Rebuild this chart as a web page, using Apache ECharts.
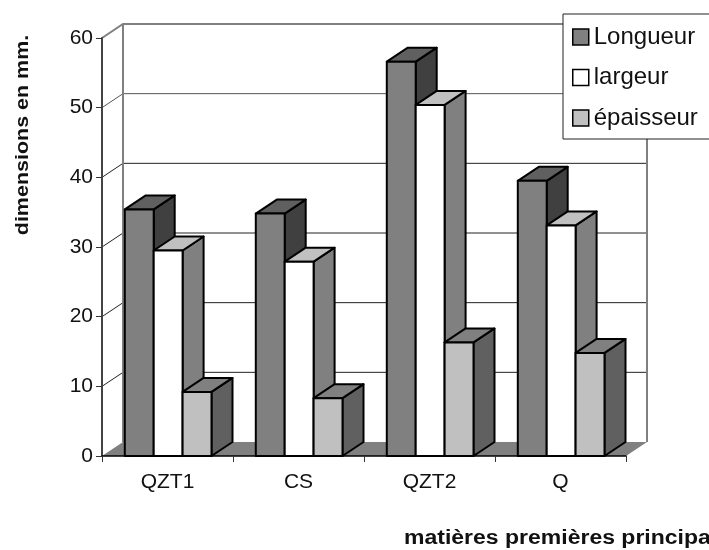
<!DOCTYPE html>
<html><head><meta charset="utf-8">
<style>html,body{margin:0;padding:0;background:#fff}#c{width:709px;height:550px}</style>
<script src="https://cdn.jsdelivr.net/npm/echarts@6/dist/echarts.min.js"></script>
</head><body><div id="c"></div>
<script>
const categories = ['QZT1','CS','QZT2','Q'];
const longueur = [35.4, 34.8, 56.6, 39.5];
const largeur = [29.5, 27.9, 50.4, 33.1];
const epaisseur = [9.2, 8.3, 16.3, 14.8];
const yTicks = [0,10,20,30,40,50,60];
const DX = 21, DY = 14;
const chart = echarts.init(document.getElementById('c'), null, {renderer:'canvas'});

function barSeries(name, values, slot, front, top, side){
  return {
    type:'custom', name, coordinateSystem:'cartesian2d', z:5, silent:true,
    itemStyle:{color:front, borderColor:'#000', borderWidth:2},
    data: values.map((v,i)=>[i,v]),
    encode:{x:0,y:1},
    renderItem(params, api){
      const i = api.value(0), v = api.value(1);
      const band = api.size([1,0])[0];
      const start = api.coord([i,0])[0] - band/2;
      const w = band*28.9/131;
      const x0 = start + band*22.8/131 + slot*w;
      const x1 = x0 + w;
      const yb = api.coord([i,0])[1];
      const yt = api.coord([i,v])[1];
      const ls = {stroke:'#000', lineWidth:2, lineJoin:'round'};
      return {type:'group', children:[
        {type:'polygon', shape:{points:[[x1,yb],[x1+DX,yb-DY],[x1+DX,yt-DY],[x1,yt]]}, style:{fill:side,...ls}},
        {type:'polygon', shape:{points:[[x0,yt],[x1,yt],[x1+DX,yt-DY],[x0+DX,yt-DY]]}, style:{fill:top,...ls}},
        {type:'rect', shape:{x:x0,y:yt,width:w,height:yb-yt}, style:{fill:front,...ls}}
      ]};
    }
  };
}

const wallSeries = {
  type:'custom', coordinateSystem:'cartesian2d', z:1, silent:true, clip:false,
  data: yTicks.map(t=>[0,t]),
  encode:{y:1},
  renderItem(params, api){
    const t = api.value(1);
    const band = api.size([1,0])[0];
    const xl = api.coord([0,0])[0] - band/2;
    const xr = xl + band*categories.length;
    const y = api.coord([0,t])[1];
    const y0 = api.coord([0,0])[1];
    const y60 = api.coord([0,yTicks[yTicks.length-1]])[1];
    const ch = [];
    if(t===0){
      ch.push({type:'polygon', z2:0, shape:{points:[[xl,y0],[xr,y0],[xr+DX,y0-DY],[xl+DX,y0-DY]]}, style:{fill:'#808080',stroke:null}});
      ch.push({type:'polyline', z2:2, shape:{points:[[xl+DX,y60-DY],[xl+DX,y0-DY]]}, style:{stroke:'#808080',lineWidth:2,fill:null}});
      ch.push({type:'polyline', z2:2, shape:{points:[[xr+DX,y60-DY],[xr+DX,y0-DY]]}, style:{stroke:'#808080',lineWidth:2,fill:null}});
    } else {
      const top = t===yTicks[yTicks.length-1];
      ch.push({type:'polyline', z2:1, shape:{points:[[xl,y],[xl+DX,y-DY],[xr+DX,y-DY]]},
        style:{stroke: top?'#808080':(t===50?'#555':'#222'), lineWidth: top?2:1, fill:null}});
    }
    return {type:'group', children:ch};
  }
};

chart.setOption({
  animation:false,
  backgroundColor:'#fff',
  textStyle:{fontFamily:'"Liberation Sans"'},
  grid:{left:102, right:83, top:38, bottom:94, containLabel:false},
  xAxis:{type:'category', data:categories, boundaryGap:true,
    axisLine:{show:true, onZero:false, lineStyle:{color:'#000', width:1.5}},
    axisTick:{show:true, alignWithLabel:false, length:6, lineStyle:{color:'#333', width:1}},
    axisLabel:{color:'#111', fontSize:21, margin:16, fontFamily:'"Liberation Sans"'},
    splitLine:{show:false}, z:6},
  yAxis:{type:'value', min:0, max:60, interval:10,
    axisLine:{show:true, lineStyle:{color:'#444', width:2}},
    axisTick:{show:true, length:6, lineStyle:{color:'#333', width:1}},
    axisLabel:{color:'#111', fontSize:21, margin:9, fontFamily:'"Liberation Sans"'},
    splitLine:{show:false}, z:6},
  legend:{orient:'vertical', left:563, top:14, padding:[11,30,9,9], itemGap:16.5,
    backgroundColor:'#fff', borderColor:'#222', borderWidth:1, z:10,
    itemWidth:16, itemHeight:16, selectedMode:false, icon:'rect', align:'left',
    textStyle:{fontSize:24, lineHeight:24, color:'#111', fontFamily:'"Liberation Sans"'},
    data:[
      {name:'Longueur', itemStyle:{color:'#808080', borderColor:'#000', borderWidth:1.5}},
      {name:'largeur', itemStyle:{color:'#fff', borderColor:'#000', borderWidth:1.5}},
      {name:'épaisseur', itemStyle:{color:'#c0c0c0', borderColor:'#000', borderWidth:1.5}}
    ]},
  graphic:[
    {type:'text', x:23, y:135, rotation:Math.PI/2, z:20, scaleX:1.13,
      style:{text:'dimensions en mm.', font:'bold 19px "Liberation Sans"', fill:'#111', align:'center', verticalAlign:'middle'}},
    {type:'text', x:404, y:538, z:20, scaleX:1.15,
      style:{text:'matières premières principales', font:'bold 20px "Liberation Sans"', fill:'#111', align:'left', verticalAlign:'middle'}}
  ],
  series:[
    wallSeries,
    barSeries('Longueur', longueur, 0, '#808080', '#606060', '#404040'),
    barSeries('largeur', largeur, 1, '#ffffff', '#c0c0c0', '#808080'),
    barSeries('épaisseur', epaisseur, 2, '#c0c0c0', '#808080', '#606060')
  ]
});
</script></body></html>
